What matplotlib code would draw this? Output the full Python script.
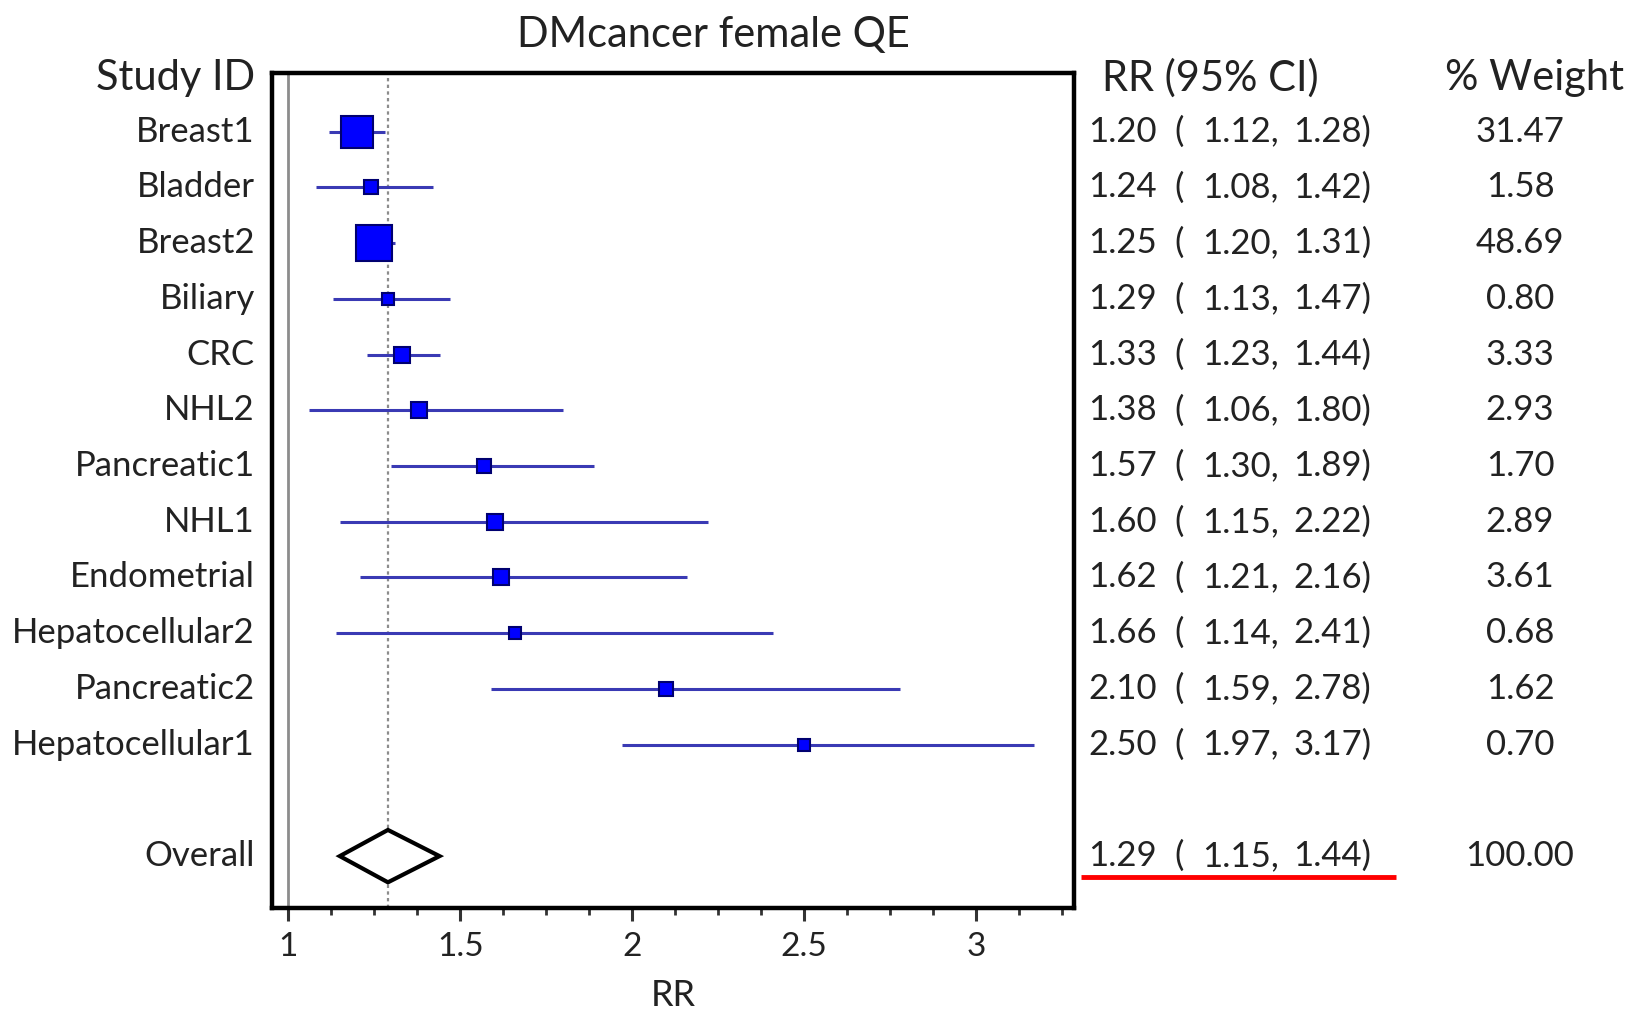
import numpy as np
import matplotlib.pyplot as plt
from matplotlib import font_manager
from matplotlib.ticker import MultipleLocator
from matplotlib.transforms import blended_transform_factory

OUTPUT_FILE = "out.png"

studies = ["Breast1", "Bladder", "Breast2", "Biliary", "CRC", "NHL2",
           "Pancreatic1", "NHL1", "Endometrial", "Hepatocellular2",
           "Pancreatic2", "Hepatocellular1"]
rr = [1.20, 1.24, 1.25, 1.29, 1.33, 1.38, 1.57, 1.60, 1.62, 1.66, 2.10, 2.50]
ci_low = [1.12, 1.08, 1.20, 1.13, 1.23, 1.06, 1.30, 1.15, 1.21, 1.14, 1.59, 1.97]
ci_high = [1.28, 1.42, 1.31, 1.47, 1.44, 1.80, 1.89, 2.22, 2.16, 2.41, 2.78, 3.17]
weights = [31.47, 1.58, 48.69, 0.80, 3.33, 2.93, 1.70, 2.89, 3.61, 0.68, 1.62, 0.70]

overall_label = "Overall"
overall_rr = 1.29
overall_low = 1.15
overall_high = 1.44
overall_weight = 100.00

xticks = [1, 1.5, 2, 2.5, 3]
xtick_labels = ["1", "1.5", "2", "2.5", "3"]

# pick a narrow font if there is one
names = {f.name for f in font_manager.fontManager.ttflist}
font = "Liberation Sans Narrow" if "Liberation Sans Narrow" in names else "Lato"
plt.rcParams["font.family"] = [font, "DejaVu Sans"]

TEXT = "#222222"
FS = 25
HEAD_FS = 30

fig = plt.figure(figsize=(16.3, 10.13), dpi=100)
ax = fig.add_axes([0.1669, 0.1037, 0.492, 0.8244])

rows = np.arange(1, len(studies) + 1)
overall_row = len(studies) + 2

# reference lines
ax.axvline(1, color="#8c8c8c", lw=2.0, zorder=1)
ax.axvline(overall_rr, color="#8c8c8c", lw=1.6, ls=(0, (1.5, 1.5)), zorder=1)

# study CIs and boxes
for y, est, lo, hi, w in zip(rows, rr, ci_low, ci_high, weights):
    ax.plot([lo, hi], [y, y], color="#3a3ab4", lw=2.2, solid_capstyle="butt", zorder=2)
    side_px = (8 + 4 * np.sqrt(w)) * 1.02
    ax.plot(est, y, marker="s", ms=side_px * 0.72, mfc="#0000ff",
            mec="#000070", mew=1.5, zorder=3)

# overall diamond
ax.fill([overall_low, overall_rr, overall_high, overall_rr],
        [overall_row, overall_row - 0.47, overall_row, overall_row + 0.47],
        facecolor="white", edgecolor="black", lw=3, zorder=3)

ax.set_xlim(0.953, 3.285)
ax.set_ylim(14.93, -0.056)
ax.set_xticks(xticks)
ax.set_xticklabels(xtick_labels)
ax.xaxis.set_minor_locator(MultipleLocator(0.125))
ax.set_yticks([])
ax.tick_params(axis="x", which="major", direction="out", length=9, width=2.2,
               labelsize=FS - 1, labelcolor=TEXT, pad=8, color="#333333")
ax.tick_params(axis="x", which="minor", direction="out", length=5, width=2.0,
               color="#333333")
for sp in ax.spines.values():
    sp.set_linewidth(3.2)
    sp.set_color("black")

# columns of text
tr = blended_transform_factory(fig.transFigure, ax.transData)
x_label = 0.1564
x_est, x_paren, x_lo, x_hi = 0.6675, 0.7202, 0.7374, 0.7933
x_w = 0.9325


def ci_row(y, est, lo, hi):
    pieces = [(x_est, f"{est:.2f}"), (x_paren, "("),
              (x_lo, f"{lo:.2f},"), (x_hi, f"{hi:.2f})")]
    for x, s in pieces:
        ax.text(x, y, s, transform=tr, ha="left", va="center",
                fontsize=FS, color=TEXT, clip_on=False)


fig.text(0.4374, 0.965, "DMcancer female QE", ha="center", va="center",
         fontsize=HEAD_FS, color=TEXT)
ax.text(x_label, 0.04, "Study ID", transform=tr, ha="right", va="center",
        fontsize=HEAD_FS, color=TEXT, clip_on=False)
ax.text(0.676, 0.04, "RR (95% CI)", transform=tr, ha="left", va="center",
        fontsize=HEAD_FS, color=TEXT, clip_on=False)
ax.text(0.8865, 0.04, "% Weight", transform=tr, ha="left", va="center",
        fontsize=HEAD_FS, color=TEXT, clip_on=False)

for y, name, est, lo, hi, w in zip(rows, studies, rr, ci_low, ci_high, weights):
    ax.text(x_label, y, name, transform=tr, ha="right", va="center",
            fontsize=FS, color=TEXT, clip_on=False)
    ci_row(y, est, lo, hi)
    ax.text(x_w, y, f"{w:.2f}", transform=tr, ha="center", va="center",
            fontsize=FS, color=TEXT, clip_on=False)

ax.text(x_label, overall_row, overall_label, transform=tr, ha="right", va="center",
        fontsize=FS, color=TEXT, clip_on=False)
ci_row(overall_row, overall_rr, overall_low, overall_high)
ax.text(x_w, overall_row, f"{overall_weight:.2f}", transform=tr, ha="center",
        va="center", fontsize=FS, color=TEXT, clip_on=False)

# red underline below the overall estimate
ax.plot([0.6632, 0.8564], [overall_row + 0.38, overall_row + 0.38], transform=tr,
        color="red", lw=3.5, clip_on=False, solid_capstyle="butt")

fig.text(0.413, 0.017, "RR", ha="center", va="center", fontsize=FS + 1, color=TEXT)

fig.savefig(OUTPUT_FILE, dpi=100)
